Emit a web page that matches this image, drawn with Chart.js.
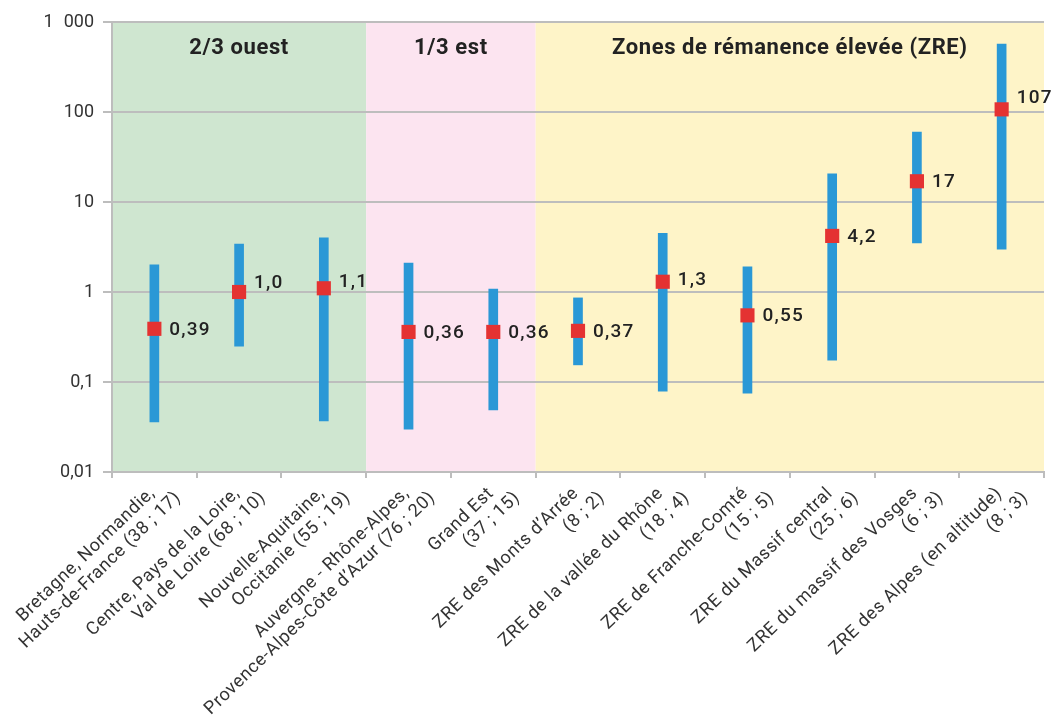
<!DOCTYPE html>
<html>
<head>
<meta charset="utf-8">
<script src="https://cdn.jsdelivr.net/npm/chart.js@4/dist/chart.umd.min.js"></script>
<style>
  html, body { margin: 0; padding: 0; background: #ffffff; }
  #wrap { width: 1054px; height: 715px; position: relative; }
</style>
</head>
<body>
<div id="wrap"><canvas id="c" width="1054" height="715"></canvas></div>
<script>
// ---- Data ----
const categories = [
  ["Bretagne, Normandie,", "Hauts-de-France (38 ; 17)"],
  ["Centre, Pays de la Loire,", "Val de Loire (68 ; 10)"],
  ["Nouvelle-Aquitaine,", "Occitanie (55 ; 19)"],
  ["Auvergne - Rhône-Alpes,", "Provence-Alpes-Côte d’Azur (76 ; 20)"],
  ["Grand Est", "(37 ; 15)"],
  ["ZRE des Monts d’Arrée", "(8 ; 2)"],
  ["ZRE de la vallée du Rhône", "(18 ; 4)"],
  ["ZRE de Franche-Comté", "(15 ; 5)"],
  ["ZRE du Massif central", "(25 ; 6)"],
  ["ZRE du massif des Vosges", "(6 ; 3)"],
  ["ZRE des Alpes (en altitude)", "(8 ; 3)"]
];
const lowValues  = [0.036, 0.25, 0.037, 0.030, 0.049, 0.155, 0.079, 0.075, 0.175, 3.5, 3.0];
const highValues = [2.0, 3.4, 4.0, 2.1, 1.08, 0.86, 4.5, 1.9, 20.5, 60, 570];
const medianValues = [0.39, 1.0, 1.1, 0.36, 0.36, 0.37, 1.3, 0.55, 4.2, 17, 107];
const medianLabels = ["0,39", "1,0", "1,1", "0,36", "0,36", "0,37", "1,3", "0,55", "4,2", "17", "107"];
const yTickValues = [0.01, 0.1, 1, 10, 100, 1000];
const yTickLabels = ["0,01", "0,1", "1", "10", "100", "1\u2007000"];
const groupNames = ["2/3 ouest", "1/3 est", "Zones de rémanence élevée (ZRE)"];
const groupStart = [0, 3, 5];
const groupEnd = [2, 4, 10];

// ---- Styles ----
const groupColors = ["#cfe6d0", "#fce4f0", "#fef4c8"];
const labelDy = [0, -10, -7, 0, 0, 0, -2, 0, 0, 0, -12];

const bandsPlugin = {
  id: 'bands',
  beforeDraw(chart) {
    const { ctx, chartArea, scales } = chart;
    const x = scales.x;
    const half = (x.getPixelForValue(1) - x.getPixelForValue(0)) / 2;
    ctx.save();
    for (let g = 0; g < groupNames.length; g++) {
      const x0 = x.getPixelForValue(groupStart[g]) - half;
      const x1 = x.getPixelForValue(groupEnd[g]) + half;
      ctx.fillStyle = groupColors[g];
      ctx.fillRect(x0, chartArea.top, x1 - x0, chartArea.bottom - chartArea.top);
    }
    ctx.restore();
  },
  afterDraw(chart) {
    const { ctx, chartArea, scales } = chart;
    const x = scales.x;
    const y = scales.y;
    const half = (x.getPixelForValue(1) - x.getPixelForValue(0)) / 2;
    ctx.save();
    // group headers
    ctx.fillStyle = "#222222";
    ctx.font = "bold 22px Roboto";
    ctx.letterSpacing = "0.6px";
    ctx.textAlign = "center";
    ctx.textBaseline = "middle";
    for (let g = 0; g < groupNames.length; g++) {
      const x0 = x.getPixelForValue(groupStart[g]) - half;
      const x1 = x.getPixelForValue(groupEnd[g]) + half;
      ctx.fillText(groupNames[g], (x0 + x1) / 2, chartArea.top + 26);
    }
    // value labels
    ctx.font = "500 19px Roboto";
    ctx.letterSpacing = "1.2px";
    ctx.textAlign = "left";
    for (let i = 0; i < medianValues.length; i++) {
      const px = x.getPixelForValue(i);
      const py = y.getPixelForValue(medianValues[i]);
      ctx.fillText(medianLabels[i], px + 15, py + 1 + labelDy[i]);
    }
    // category labels (rotated, two lines)
    ctx.fillStyle = "#333333";
    ctx.font = "18px Roboto";
    ctx.letterSpacing = "0.6px";
    ctx.textAlign = "right";
    ctx.textBaseline = "middle";
    const ang = -44 * Math.PI / 180;
    for (let i = 0; i < categories.length; i++) {
      const cx = x.getPixelForValue(i);
      const lines = categories[i];
      for (let j = 0; j < lines.length; j++) {
        ctx.save();
        ctx.translate(cx - 2 + 26 * j, chartArea.bottom + 19 + 4 * j);
        ctx.rotate(ang);
        ctx.fillText(lines[j], 0, 0);
        ctx.restore();
      }
    }
    ctx.restore();
  }
};

const ranges = lowValues.map((lo, i) => [lo, highValues[i]]);

new Chart(document.getElementById('c'), {
  data: {
    labels: categories,
    datasets: [
      {
        type: 'bar',
        data: ranges,
        backgroundColor: '#2a98d6',
        borderWidth: 0,
        barThickness: 9,
        order: 2
      },
      {
        type: 'line',
        data: medianValues,
        showLine: false,
        pointStyle: 'rect',
        pointRadius: 10,
        pointHoverRadius: 10,
        pointBackgroundColor: '#e43232',
        pointBorderWidth: 0,
        borderColor: '#e43232',
        order: 1
      }
    ]
  },
  plugins: [bandsPlugin],
  options: {
    responsive: false,
    animation: false,
    events: [],
    layout: { padding: { top: 22, right: 5, left: 0, bottom: 0 } },
    plugins: { legend: { display: false }, tooltip: { enabled: false } },
    scales: {
      x: {
        type: 'category',
        offset: true,
        grid: {
          offset: true,
          drawOnChartArea: false,
          drawTicks: true,
          tickLength: 6,
          color: '#bdbdbd',
          lineWidth: 2
        },
        border: { display: true, color: '#bdbdbd', width: 2 },
        ticks: { display: false, autoSkip: false },
        afterFit(scale) { scale.height = 715 - 472; }
      },
      y: {
        type: 'logarithmic',
        min: 0.01,
        max: 1000,
        afterBuildTicks(scale) {
          scale.ticks = yTickValues.map(v => ({ value: v }));
        },
        grid: {
          color: '#bdbdbd',
          lineWidth: 2,
          drawTicks: true,
          tickLength: 9
        },
        border: { display: true, color: '#bdbdbd', width: 2 },
        ticks: {
          padding: 9,
          color: '#333333',
          font: { family: 'Roboto', size: 18 },
          callback(value) {
            const idx = yTickValues.findIndex(v => Math.abs(v - value) / v < 1e-6);
            return idx >= 0 ? yTickLabels[idx] : '';
          }
        },
        afterFit(scale) { scale.width = 112; }
      }
    }
  }
});
</script>
</body>
</html>
